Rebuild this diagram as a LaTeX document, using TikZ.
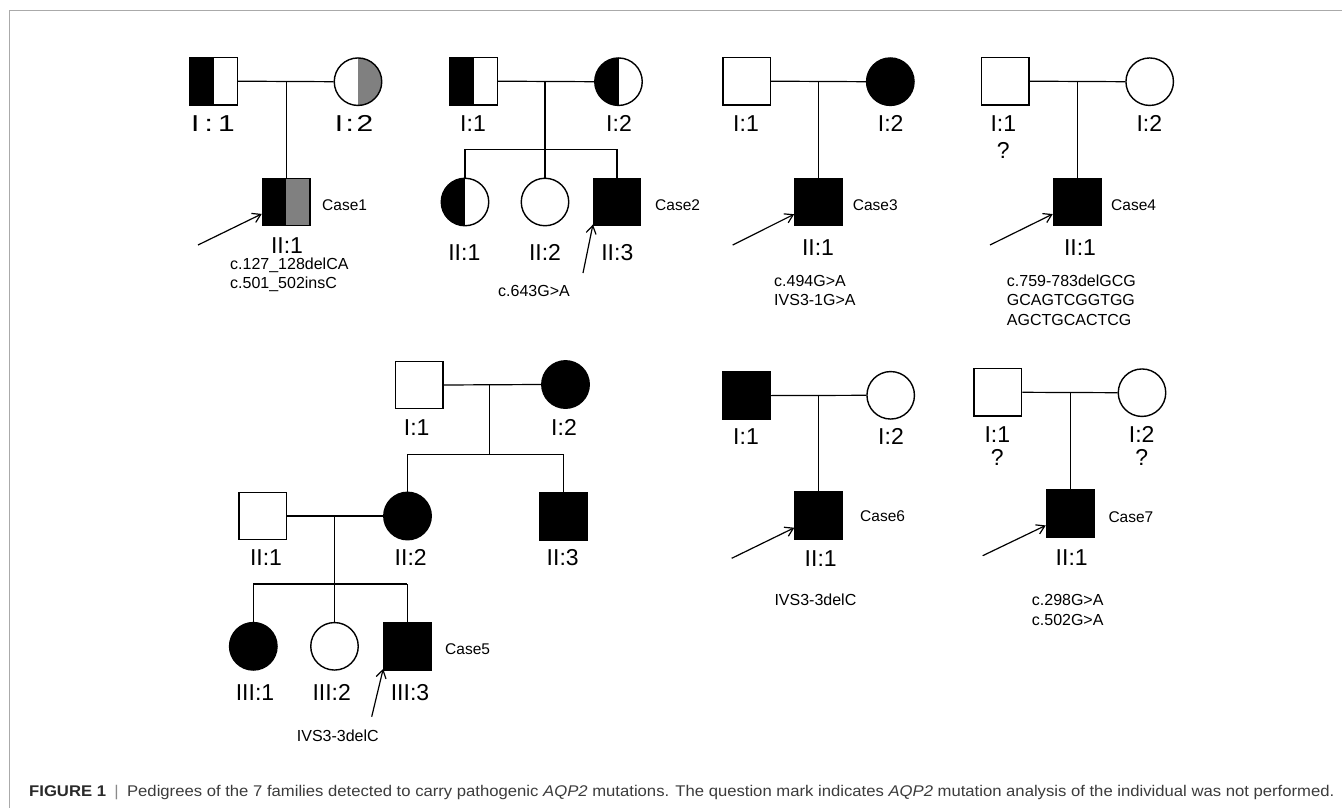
\documentclass[tikz,border=0pt]{standalone}
\usepackage{fontspec}
\usepackage{graphicx}
\setmainfont{Liberation Sans}
\usetikzlibrary{arrows.meta}
\definecolor{halfgray}{HTML}{808080}
\definecolor{framegray}{HTML}{AAAAAA}
\definecolor{capdark}{HTML}{2A2A2A}
\definecolor{captext}{HTML}{3C3C3C}
\definecolor{capbar}{HTML}{8A8A8A}
\tikzset{
  ind/.style={draw=black, line width=1.4pt, inner sep=0pt, minimum size=47.5pt, fill=white},
  male/.style={ind, rectangle},
  female/.style={ind, circle},
  aff/.style={fill=black},
  lefthalf/.style={path picture={\fill[black] (path picture bounding box.north west) rectangle (path picture bounding box.south);}},
  righthalf/.style={path picture={\fill[black] (path picture bounding box.north) rectangle (path picture bounding box.south east);}},
  rightgrayhalf/.style={path picture={\fill[halfgray] (path picture bounding box.north) rectangle (path picture bounding box.south east);}},
  blackgray/.style={path picture={\fill[black] (path picture bounding box.north west) rectangle (path picture bounding box.south);\fill[halfgray] (path picture bounding box.north) rectangle (path picture bounding box.south east);}},
  link/.style={draw=black, line width=1.2pt},
  proband/.style={draw=black, line width=1.2pt, -{Straight Barb[length=8pt,width=10pt,line width=1.2pt]}},
  lbl/.style={anchor=base, inner sep=0pt, font=\fontsize{23}{23}\selectfont},
  casetxt/.style={anchor=base west, inner sep=0pt, font=\fontsize{15.5}{18}\selectfont},
  muttxt/.style={anchor=base west, inner sep=0pt, font=\fontsize{16}{20}\selectfont},
}
\begin{document}
\begin{tikzpicture}[x=1pt,y=-1pt]
\useasboundingbox (0,0) rectangle (1342,808);
\fill[white] (0,0) rectangle (1342,808);
\draw[framegray, line width=1.1pt] (9.5,808) -- (9.5,10.5) -- (1342,10.5);

% ---------------- Case 1 ----------------
\node[male, lefthalf] (a11) at (213.5,81.2) {};
\node[female, rightgrayhalf] (a12) at (358,81.7) {};
\node[male, blackgray] (a21) at (286.2,202) {};
\draw[link] (a11.east) -- (a12.west);
\coordinate (am) at (a21.north |- a12.west);
\draw[link] (am) -- (a21.north);
\node[lbl] (la11) at (213,131.7) {\scalebox{1.3}[1]{I\kern4pt:\kern4pt1}};
\node[lbl] (la12) at (354,131.7) {\scalebox{1.3}[1]{I\kern2pt:\kern2pt2}};
\node[lbl] (la21) at (287,253) {II:1};
\node[casetxt] (ca) at (322,210.7) {Case1};
\coordinate (aa) at (198,245);
\draw[proband] (aa) -- (a21);
\node[muttxt] (ma1) at (230,269) {c.127\_128delCA};
\node[muttxt] (ma2) at (230,288.5) {c.501\_502insC};

% ---------------- Case 2 ----------------
\node[male, lefthalf] (b11) at (473.5,81.2) {};
\node[female, lefthalf] (b12) at (618.5,81.7) {};
\node[female, lefthalf] (b21) at (465,202) {};
\node[female] (b22) at (545,202) {};
\node[male, aff] (b23) at (617,202) {};
\draw[link] (b11.east) -- (b12.west);
\coordinate (bm) at (b22.north |- b12.west);
\coordinate (bs) at (545,149.3);
\draw[link] (bm) -- (b22.north);
\draw[link] (b21.north |- bs) -- (b23.north |- bs);
\draw[link] (b21.north |- bs) -- (b21.north);
\draw[link] (b23.north |- bs) -- (b23.north);
\node[lbl] (lb11) at (473,131.7) {I:1};
\node[lbl] (lb12) at (619,131.7) {I:2};
\node[lbl] (lb21) at (464.3,260) {II:1};
\node[lbl] (lb22) at (545,260) {II:2};
\node[lbl] (lb23) at (617.3,260) {II:3};
\node[casetxt] (cb) at (655,210.7) {Case2};
\coordinate (ba) at (583,273);
\draw[proband, shorten >=-2pt] (ba) -- (b23.south west);
\node[muttxt] (mb1) at (498,296) {c.643G>A};

% ---------------- Case 3 ----------------
\node[male] (c11) at (746.7,81.2) {};
\node[female, aff] (c12) at (890.3,81.7) {};
\node[male, aff] (c21) at (818.6,202) {};
\draw[link] (c11.east) -- (c12.west);
\coordinate (cm) at (c21.north |- c12.west);
\draw[link] (cm) -- (c21.north);
\node[lbl] (lc11) at (746,131.7) {I:1};
\node[lbl] (lc12) at (890.7,131.7) {I:2};
\node[lbl] (lc21) at (818,255) {II:1};
\node[casetxt] (cc) at (852.7,210.7) {Case3};
\coordinate (ca0) at (732.7,245);
\draw[proband] (ca0) -- (c21);
\node[muttxt] (mc1) at (774,286) {c.494G>A};
\node[muttxt] (mc2) at (774,305.7) {IVS3-1G>A};

% ---------------- Case 4 ----------------
\node[male] (d11) at (1005.3,81.2) {};
\node[female] (d12) at (1149.7,81.7) {};
\node[male, aff] (d21) at (1077.2,202) {};
\draw[link] (d11.east) -- (d12.west);
\coordinate (dm) at (d21.north |- d12.west);
\draw[link] (dm) -- (d21.north);
\node[lbl] (ld11) at (1003.3,131.7) {I:1};
\node[lbl] (ldq) at (1003.3,158.3) {?};
\node[lbl] (ld12) at (1149.3,131.7) {I:2};
\node[lbl] (ld21) at (1080,255) {II:1};
\node[casetxt] (cd) at (1111,210.7) {Case4};
\coordinate (da) at (990,245);
\draw[proband] (da) -- (d21);
\node[muttxt] (md1) at (1006.7,286) {c.759-783delGCG};
\node[muttxt] (md2) at (1006.7,305.7) {GCAGTCGGTGG};
\node[muttxt] (md3) at (1006.7,325) {AGCTGCACTCG};

% ---------------- Case 5 ----------------
\node[male] (e11) at (419.2,385) {};
\node[female, aff] (e12) at (565.5,384.5) {};
\node[male] (e21) at (262.8,516) {};
\node[female, aff] (e22) at (407.5,516) {};
\node[male, aff] (e23) at (563.5,516.2) {};
\node[female, aff] (e31) at (253.3,646.3) {};
\node[female] (e32) at (334.5,646.3) {};
\node[male, aff] (e33) at (407.2,646.3) {};
\draw[link] (e11.east) -- (e12.west);
\coordinate (em1) at (489.3,384.5);
\coordinate (es1) at (489.3,454.3);
\draw[link] (em1) -- (es1);
\draw[link] (e22.north |- es1) -- (e23.north |- es1);
\draw[link] (e22.north |- es1) -- (e22.north);
\draw[link] (e23.north |- es1) -- (e23.north);
\draw[link] (e21.east) -- (e22.west);
\coordinate (em2) at (e32.north |- e22.west);
\coordinate (es2) at (334.5,584);
\draw[link] (em2) -- (e32.north);
\draw[link] (e31.north |- es2) -- (e33.north |- es2);
\draw[link] (e31.north |- es2) -- (e31.north);
\draw[link] (e33.north |- es2) -- (e33.north);
\node[lbl] (le11) at (416.7,435) {I:1};
\node[lbl] (le12) at (564,435) {I:2};
\node[lbl] (le21) at (266,565) {II:1};
\node[lbl] (le22) at (410.7,565) {II:2};
\node[lbl] (le23) at (562.7,565) {II:3};
\node[lbl] (le31) at (255,700.7) {III:1};
\node[lbl] (le32) at (331.7,700.7) {III:2};
\node[lbl] (le33) at (410,700.7) {III:3};
\node[casetxt] (ce) at (445,654.3) {Case5};
\coordinate (ea) at (371.7,716.7);
\draw[proband, shorten >=-2pt] (ea) -- (e33.south west);
\node[muttxt] (me1) at (296.7,741.5) {IVS3-3delC};

% ---------------- Case 6 ----------------
\node[male, aff] (f11) at (746.7,395.6) {};
\node[female] (f12) at (890.7,395.3) {};
\node[male, aff] (f21) at (818.8,515.8) {};
\draw[link] (f11.east) -- (f12.west);
\coordinate (fm) at (f21.north |- f12.west);
\draw[link] (fm) -- (f21.north);
\node[lbl] (lf11) at (746,444) {I:1};
\node[lbl] (lf12) at (891,444) {I:2};
\node[lbl] (lf21) at (820.7,566.7) {II:1};
\node[casetxt] (cf) at (860,521.7) {Case6};
\coordinate (fa) at (731.7,558.3);
\draw[proband] (fa) -- (f21);
\node[muttxt] (mf1) at (774.3,605) {IVS3-3delC};

% ---------------- Case 7 ----------------
\node[male] (g11) at (997.8,392.3) {};
\node[female] (g12) at (1142,392.7) {};
\node[male, aff] (g21) at (1070.2,513.7) {};
\draw[link] (g11.east) -- (g12.west);
\coordinate (gm) at (g21.north |- g12.west);
\draw[link] (gm) -- (g21.north);
\node[lbl] (lg11) at (997.3,442.7) {I:1};
\node[lbl] (lgq1) at (997.3,465) {?};
\node[lbl] (lg12) at (1141.7,442.7) {I:2};
\node[lbl] (lgq2) at (1141.7,465) {?};
\node[lbl] (lg21) at (1071.7,565) {II:1};
\node[casetxt] (cg) at (1108.3,522.3) {Case7};
\coordinate (ga) at (982.7,555.7);
\draw[proband] (ga) -- (g21);
\node[muttxt] (mg1) at (1031.7,605.7) {c.298G>A};
\node[muttxt] (mg2) at (1031.7,625) {c.502G>A};

% ---------------- Caption ----------------
\node[anchor=base west, inner sep=0pt] (caption) at (29,796.5) {\resizebox{1305pt}{\height}{\fontsize{15.5}{18}\selectfont\textcolor{capdark}{\textbf{FIGURE 1}}\enspace\textcolor{capbar}{|}\enspace\textcolor{captext}{Pedigrees of the 7 families detected to carry pathogenic \textit{AQP2} mutations. The question mark indicates \textit{AQP2} mutation analysis of the individual was not performed.}}};
\end{tikzpicture}
\end{document}
